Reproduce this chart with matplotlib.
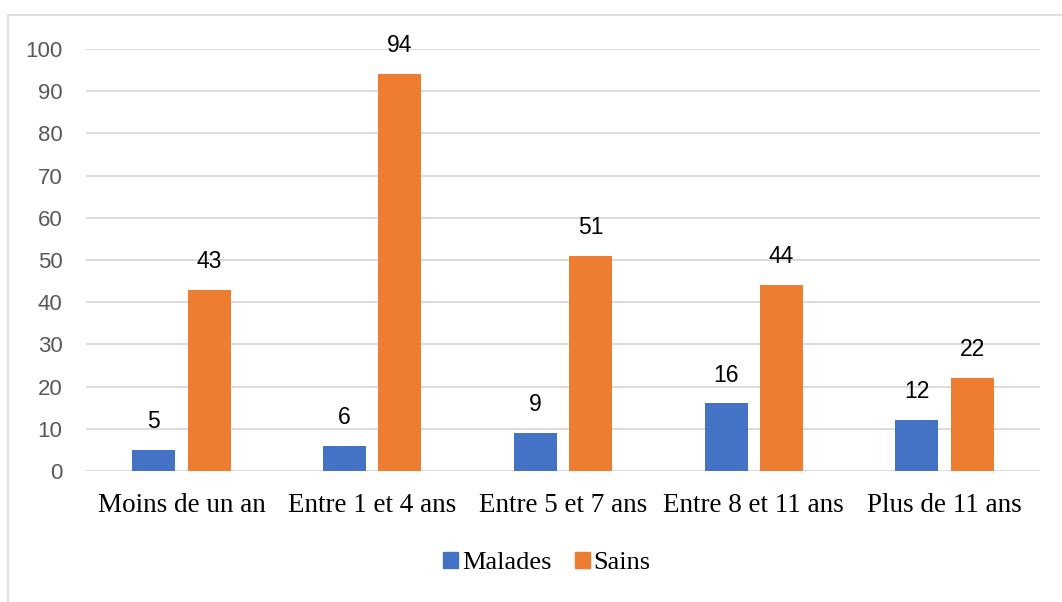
import matplotlib
matplotlib.use("Agg")
import matplotlib.pyplot as plt
from matplotlib.lines import Line2D
from matplotlib.patches import Patch
import numpy as np

categories = ["Moins de un an", "Entre 1 et 4 ans", "Entre 5 et 7 ans",
              "Entre 8 et 11 ans", "Plus de 11 ans"]
malades = [5, 6, 9, 16, 12]
sains = [43, 94, 51, 44, 22]
series_names = ["Malades", "Sains"]

BLUE = "#4472C4"
ORANGE = "#ED7D31"
GRID = "#D9D9D9"
W, H = 1062, 602

fig = plt.figure(figsize=(W / 100, H / 100), dpi=100)
ax = fig.add_axes([86 / W, (H - 471) / H, (1040 - 86) / W, (471 - 49) / H])

# chart area frame
fig.add_artist(Line2D([8 / W, 8 / W, 1.0], [0.0, 1 - 15 / H, 1 - 15 / H],
                      transform=fig.transFigure, color=GRID, lw=1.2))

x = np.arange(len(categories))
bw = 0.225
off = 0.145
b1 = ax.bar(x - off, malades, bw, color=BLUE, zorder=3)
b2 = ax.bar(x + off, sains, bw, color=ORANGE, zorder=3)

for bars, vals in ((b1, malades), (b2, sains)):
    for r, v in zip(bars, vals):
        ax.text(r.get_x() + r.get_width() / 2, v + 4.0, str(v),
                ha="center", va="bottom", fontsize=16.5,
                family="Liberation Sans", color="black")

ax.set_xlim(-0.5, len(categories) - 0.5)
ax.set_ylim(0, 100)
ax.set_yticks(range(0, 101, 10))
ax.yaxis.grid(True, color=GRID, lw=1.3, zorder=0)
ax.set_axisbelow(True)
for s in ax.spines.values():
    s.set_visible(False)
ax.tick_params(axis="both", length=0)
ax.tick_params(axis="y", pad=17, labelsize=16, labelcolor="#595959")
for t in ax.get_yticklabels():
    t.set_family("Liberation Sans")
ax.set_xticks(x)
ax.set_xticklabels(categories, family="Liberation Serif", fontsize=19.5)
ax.tick_params(axis="x", pad=16)

handles = [Patch(color=BLUE), Patch(color=ORANGE)]
fig.legend(handles, series_names, loc="center", bbox_to_anchor=(547 / W, 1 - 563 / H),
           ncol=2, frameon=False, prop={"family": "Liberation Serif", "size": 19},
           handlelength=0.55, handleheight=0.55, handletextpad=0.15, columnspacing=0.9)

fig.savefig("out.png", dpi=100, facecolor="white")
